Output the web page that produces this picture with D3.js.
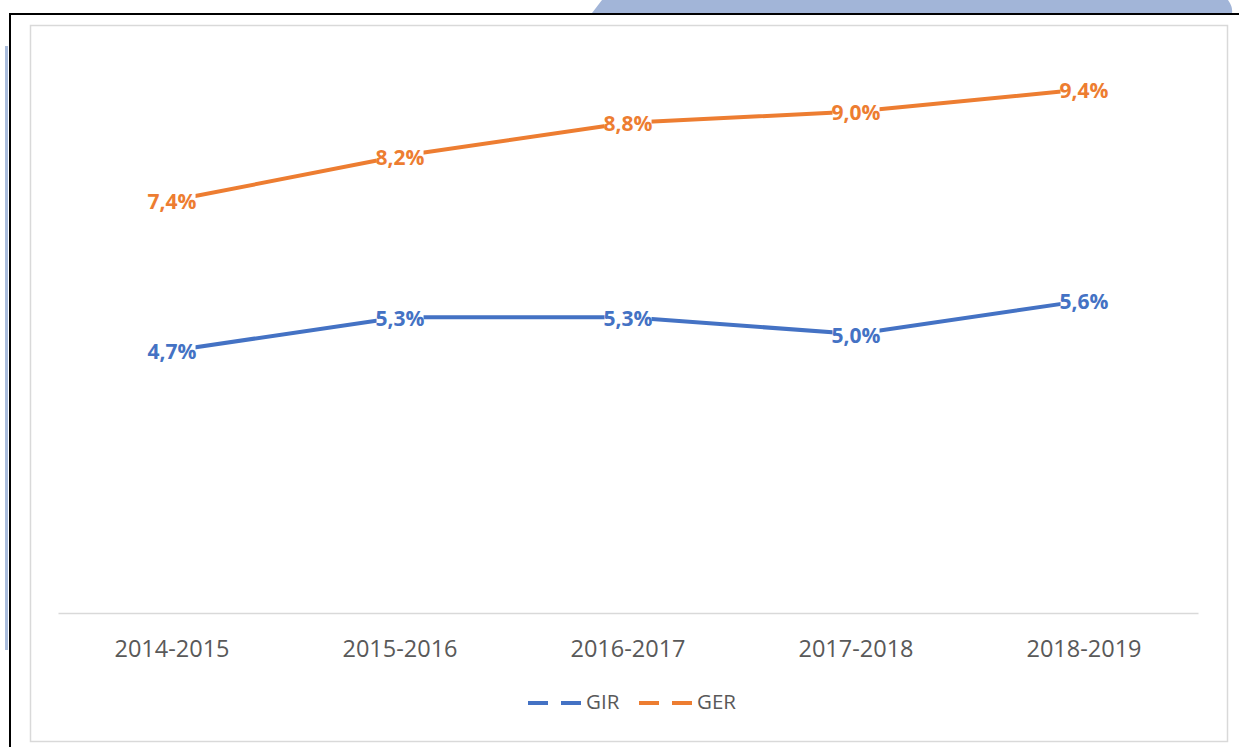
<!DOCTYPE html>
<html><head><meta charset="utf-8">
<script src="https://cdn.jsdelivr.net/npm/d3@7"></script>
<style>html,body{margin:0;padding:0;background:#fff;}svg{display:block;}</style>
</head><body>
<script>
const categories = ["2014-2015","2015-2016","2016-2017","2017-2018","2018-2019"];
const girValues = [4.7, 5.3, 5.3, 5.0, 5.6];
const gerValues = [7.4, 8.2, 8.8, 9.0, 9.4];
const seriesNames = ["GIR","GER"];
const seriesColors = ["#4472C4","#ED7D31"];

const W = 1239, H = 747;
const svg = d3.select("body").append("svg").attr("width", W).attr("height", H);

// decorative page frame
svg.append("path").attr("d","M602,0 L1228,0 Q1233,7 1232,13 L592,13 Z").attr("fill","#a2b5d8");
svg.append("rect").attr("x",5).attr("y",46).attr("width",3).attr("height",604).attr("fill","#a9bcdc");
svg.append("line").attr("x1",9).attr("x2",W).attr("y1",14).attr("y2",14).attr("stroke","#000").attr("stroke-width",2);
svg.append("line").attr("x1",10).attr("x2",10).attr("y1",13).attr("y2",H).attr("stroke","#000").attr("stroke-width",2);
// chart area border
svg.append("rect").attr("x",30.5).attr("y",25.5).attr("width",1197).attr("height",716).attr("fill","#fff").attr("stroke","#d9d9d9").attr("stroke-width",1.5);

const x = d3.scaleBand().domain(categories).range([58, 1198]);
const y = d3.scaleLinear().domain([0, 10]).range([612, 56]);

// axis
const xAxis = svg.append("g").attr("transform","translate(0,613)").call(d3.axisBottom(x).tickSize(0).tickPadding(27));
xAxis.select(".domain").attr("stroke","#d9d9d9").attr("stroke-width",1.5);
xAxis.selectAll("text").attr("font-family","'Open Sans', sans-serif").attr("font-size",23.5).attr("fill","#595959");

const data = [girValues, gerValues];
const line = d3.line().x((d,i)=>x(categories[i]) + x.bandwidth()/2).y(d=>y(d));

data.forEach((vals, s) => {
  svg.append("path").datum(vals).attr("d", line).attr("fill","none")
    .attr("stroke", seriesColors[s]).attr("stroke-width",4).attr("stroke-linejoin","round");
});
data.forEach((vals, s) => {
  const g = svg.append("g");
  vals.forEach((v,i) => {
    const cx = x(categories[i]) + x.bandwidth()/2, cy = y(v);
    const label = d3.format(".1f")(v).replace(".", ",") + "%";
    const t = g.append("text").attr("x",cx).attr("y",cy+3).attr("text-anchor","middle")
      .attr("dominant-baseline","middle")
      .attr("font-family","'Open Sans', sans-serif").attr("font-weight","bold").attr("font-size",21)
      .attr("fill",seriesColors[s]).text(label);
    const bb = t.node().getBBox();
    g.insert("rect", "text").attr("x",bb.x+1).attr("y",bb.y+3).attr("width",bb.width-2).attr("height",bb.height-6).attr("fill","#fff");
  });
});

// legend
const legend = svg.append("g");
const legendItems = [{x:528, name:seriesNames[0], color:seriesColors[0]},{x:639, name:seriesNames[1], color:seriesColors[1]}];
legendItems.forEach(it => {
  legend.append("line").attr("x1",it.x).attr("x2",it.x+54).attr("y1",703).attr("y2",703)
    .attr("stroke",it.color).attr("stroke-width",4).attr("stroke-dasharray","20,13");
  legend.append("text").attr("x",it.x+58).attr("y",704).attr("dominant-baseline","middle")
    .attr("font-family","'Open Sans', sans-serif").attr("font-size",20.5).attr("fill","#595959").text(it.name);
});
</script>
</body></html>
